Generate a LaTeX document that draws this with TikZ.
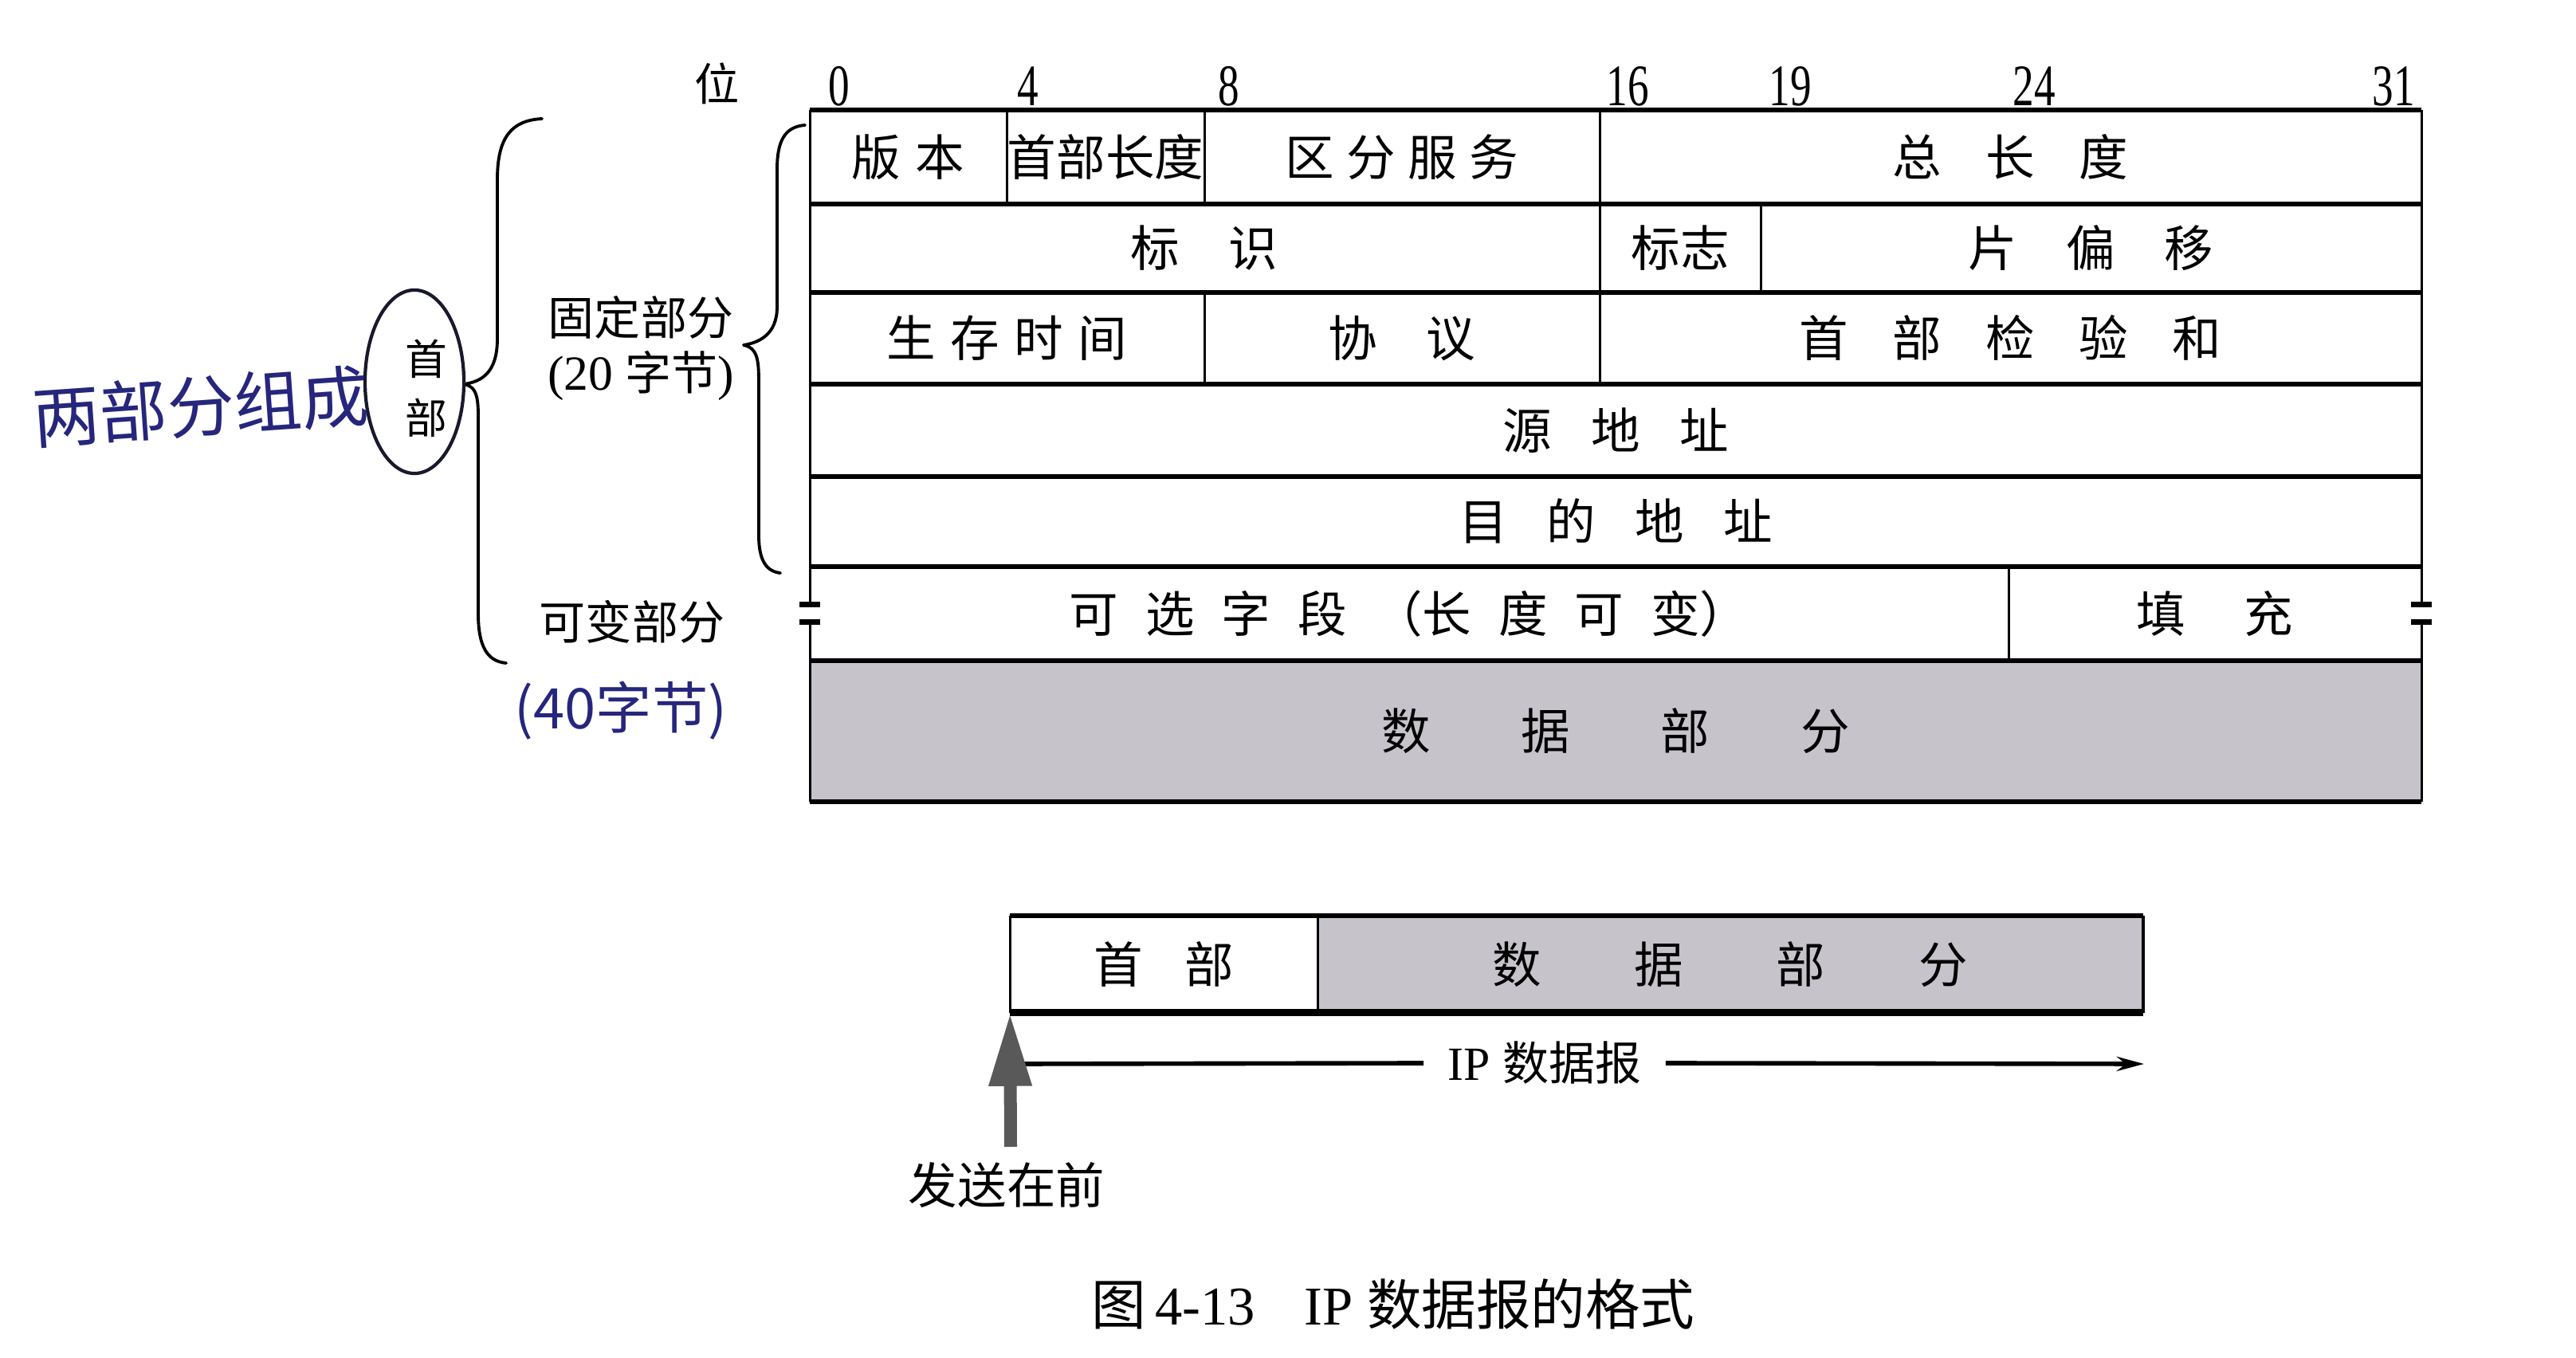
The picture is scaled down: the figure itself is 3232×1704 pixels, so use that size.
\documentclass[tikz,border=0pt]{standalone}
\usepackage{graphicx}
\usepackage{fontspec}
\setmainfont{Liberation Serif}
\newfontfamily\cjk{Noto Sans CJK SC}
\usetikzlibrary{arrows.meta,shapes.geometric}
\definecolor{datafill}{RGB}{198,196,202}
\definecolor{ink}{RGB}{38,38,125}
\definecolor{penline}{RGB}{25,25,45}
\newcommand\gp[1]{\hspace{#1em}}
\newcommand\bitno[1]{\scalebox{0.72}[1]{#1}}

\begin{document}
\begin{tikzpicture}[x=0.01cm,y=-0.01cm,
  hline/.style={line width=1.7pt},
  vline/.style={line width=0.85pt},
  cell/.style={inner sep=0pt, font={\cjk\fontsize{17.5}{20}\selectfont}},
  bitnum/.style={inner sep=0pt, font={\fontsize{21}{23}\selectfont}},
  side/.style={inner sep=0pt, align=center, font={\cjk\fontsize{16.5}{18.5}\selectfont}},
  brace/.style={line width=1.1pt, line cap=round, line join=round},
  breakbar/.style={line width=0.07cm},
  hand/.style={inner sep=0pt, text=ink}]

\useasboundingbox (0,0) rectangle (3232,1704);
\fill[white] (0,0) rectangle (3232,1704);

% ---------- bit ruler ----------
\node[side, font={\cjk\fontsize{16}{18}\selectfont}] (wei) at (900,105) {位};
\node[bitnum] (b0)  at (1053,108) {\bitno{0}};
\node[bitnum] (b4)  at (1290,108) {\bitno{4}};
\node[bitnum] (b8)  at (1542,108) {\bitno{8}};
\node[bitnum] (b16) at (2042,108) {\bitno{16}};
\node[bitnum] (b19) at (2246,108) {\bitno{19}};
\node[bitnum] (b24) at (2552,108) {\bitno{24}};
\node[bitnum] (b31) at (3003,108) {\bitno{31}};

% ---------- header table ----------
\fill[datafill] (1016,829) rectangle (3038,1006);

\foreach \yy in {138,256,367,482,598,711,829,1006}
  \draw[hline] (1016,\yy) -- (3038,\yy);

\draw[vline] (1016,138) -- (1016,1006);
\draw[vline] (3038,138) -- (3038,1006);
% row 1
\draw[vline] (1263,138) -- (1263,256);
\draw[vline] (1511,138) -- (1511,256);
\draw[vline] (2007,138) -- (2007,256);
% row 2
\draw[vline] (2007,256) -- (2007,367);
\draw[vline] (2209,256) -- (2209,367);
% row 3
\draw[vline] (1511,367) -- (1511,482);
\draw[vline] (2007,367) -- (2007,482);
% options / padding
\draw[vline] (2520,711) -- (2520,829);

% break marks on both edges of the options row
\foreach \xx in {1016,3038}{
  \fill[white] (\xx-8,762) rectangle (\xx+8,778);
  \draw[breakbar] (\xx-13,759) -- (\xx+13,759);
  \draw[breakbar] (\xx-13,781) -- (\xx+13,781);
}

% cell texts
\node[cell] (ver)   at (1139,197) {版\gp{0.3}本};
\node[cell] (ihl)   at (1387,197) {首部长度};
\node[cell] (ds)    at (1759,197) {区\gp{0.25}分\gp{0.25}服\gp{0.25}务};
\node[cell] (tlen)  at (2522,197) {总\gp{0.9}长\gp{0.9}度};
\node[cell] (ident) at (1511,311) {标\gp{1}识};
\node[cell] (flags) at (2108,311) {标志};
\node[cell] (foff)  at (2623,311) {片\gp{1}偏\gp{1}移};
\node[cell] (ttl)   at (1263,424) {生\gp{0.3}存\gp{0.3}时\gp{0.3}间};
\node[cell] (proto) at (1759,424) {协\gp{1}议};
\node[cell] (csum)  at (2522,424) {首\gp{0.9}部\gp{0.9}检\gp{0.9}验\gp{0.9}和};
\node[cell] (src)   at (2027,540) {源\gp{0.8}地\gp{0.8}址};
\node[cell] (dst)   at (2027,654) {目\gp{0.8}的\gp{0.8}地\gp{0.8}址};
\node[cell] (opt)   at (1768,770) {可\gp{0.55}选\gp{0.55}字\gp{0.55}段\gp{0.55}（长\gp{0.55}度\gp{0.55}可\gp{0.55}变）};
\node[cell] (pad)   at (2779,770) {填\gp{1.2}充};
\node[cell] (data)  at (2027,917) {数\gp{1.85}据\gp{1.85}部\gp{1.85}分};

% ---------- braces and side labels ----------
\draw[brace] (680,149) .. controls (642,151) and (624,172) .. (624,225)
  -- (624,425) .. controls (624,468) and (604,479) .. (582,482)
  .. controls (602,486) and (600,505) .. (600,545)
  -- (600,770) .. controls (600,812) and (612,830) .. (635,832);

\draw[brace] (1010,157) .. controls (984,159) and (975,178) .. (975,212)
  -- (975,385) .. controls (975,420) and (952,430) .. (933,433)
  .. controls (952,437) and (952,455) .. (952,485)
  -- (952,672) .. controls (952,704) and (962,717) .. (979,719);

\node[side] (fixed) at (804,437) {固定部分\\[1pt]{\rmfamily\fontsize{17.5}{19}\selectfont (20 }字节{\rmfamily\fontsize{17.5}{19}\selectfont )}};
\node[side] (var) at (793,780) {可变部分};

\node[draw=penline, line width=1.2pt, ellipse, minimum width=1.24cm,
      minimum height=2.3cm, inner sep=0pt] (oval) at (520,479) {};
\node[inner sep=0pt, align=center, font={\cjk\fontsize{15}{21}\selectfont}]
      (hdrtxt) at (535,487) {首\\部};

% handwritten notes
\node[hand, rotate=4, font={\cjk\fontsize{24}{26}\selectfont}] (note1) at (252,510) {两部分组成};
\node[hand, font={\cjk\fontsize{20}{22}\selectfont}] (note2) at (779,892) {(40字节)};

% ---------- datagram overview ----------
\fill[datafill] (1653,1150) rectangle (2688,1270);
\node[cell, minimum width=3.85cm, minimum height=1.2cm] (hd2) at (1460.5,1210) {首\gp{0.85}部};
\node[cell, minimum width=10.35cm, minimum height=1.2cm] (dt2) at (2170.5,1210) {数\gp{1.9}据\gp{1.9}部\gp{1.9}分};
\draw[hline] (hd2.north west) -- (dt2.north east);
\draw[line width=2.6pt] (hd2.south west) -- (dt2.south east);
\draw[vline] (hd2.north west) -- (hd2.south west);
\draw[vline] (hd2.north east) -- (hd2.south east);
\draw[line width=1.2pt] (dt2.north east) -- (dt2.south east);

% length arrow
\coordinate (ipL) at (1276,1335);
\coordinate (ipR) at (2690,1335);
\node[inner sep=0pt, inner xsep=0.3cm, font={\fontsize{17}{19}\selectfont}] (ip) at (1938,1334) {IP {\cjk\fontsize{16.5}{19}\selectfont 数据报}};
\draw[line width=1.6pt] (ipL) -- (ip.west);
\draw[line width=1.6pt, -{Stealth[length=0.34cm,width=0.18cm]}] (ip.east) -- (ipR);

% send-first arrow
\node[side, font={\cjk\fontsize{17.5}{20}\selectfont}] (send) at (1263,1487) {发送在前};
\coordinate (sendtop) at (1268,1439);
\draw[line width=0.16cm, black!65, -{Triangle[width=0.5cm,length=0.92cm]}]
  (sendtop) -- (hd2.south west);

% ---------- caption ----------
\node[inner sep=0pt, font={\fontsize{19.5}{21}\selectfont}] (cap) at (1748,1636)
  {{\cjk 图}\,4-13\hspace{0.9em}IP {\cjk 数据报的格式}};

\end{tikzpicture}
\end{document}
